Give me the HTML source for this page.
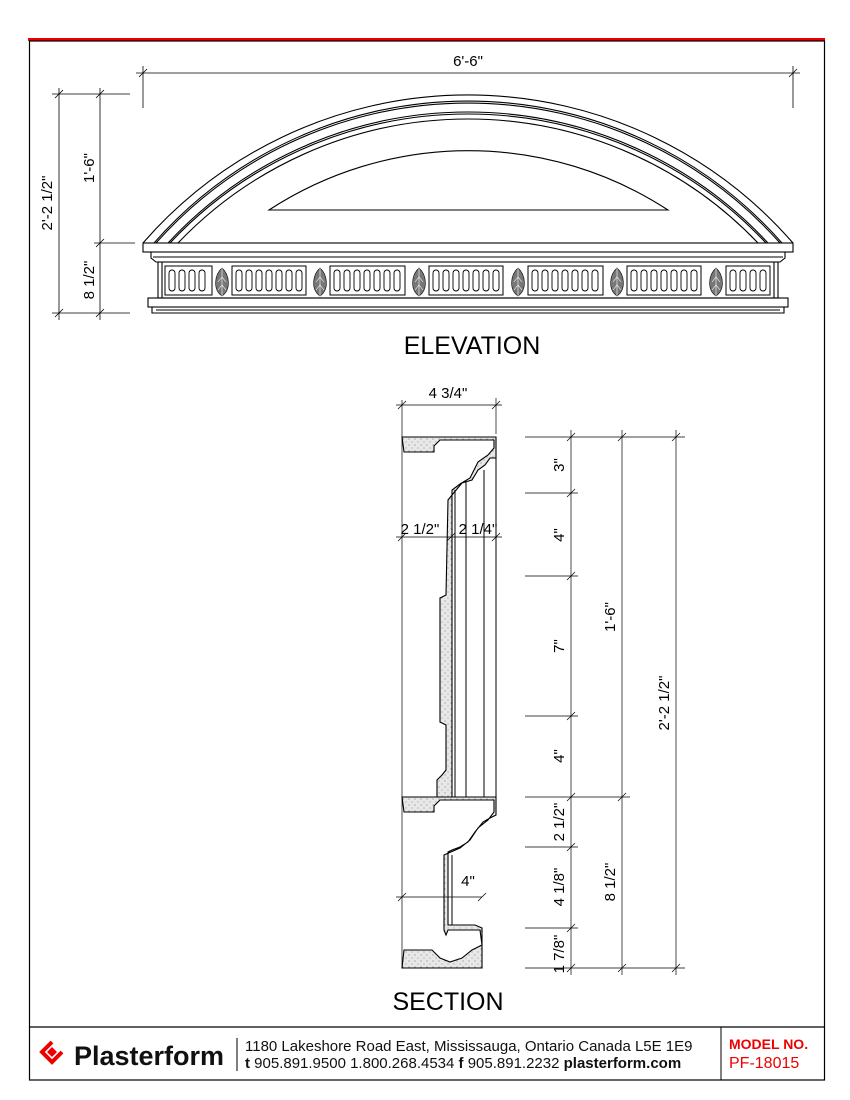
<!DOCTYPE html>
<html><head><style>
body{margin:0;background:#fff;}
svg{display:block;}
text{font-family:"Liberation Sans",sans-serif;}
</style></head><body>
<svg width="850" height="1100" viewBox="0 0 850 1100" xmlns="http://www.w3.org/2000/svg">
<defs>
<pattern id="st" width="6" height="6" patternUnits="userSpaceOnUse"><rect width="6" height="6" fill="#e8e8e8"/><circle cx="1" cy="1" r="0.6" fill="#888"/><circle cx="4" cy="4" r="0.6" fill="#999"/></pattern>
</defs>
<line x1="28" y1="39.5" x2="825" y2="39.5" stroke="#e00" stroke-width="3"/>
<rect x="29.5" y="41" width="795" height="1039" fill="none" stroke="#000" stroke-width="1.2"/>
<line x1="29" y1="1027" x2="825" y2="1027" stroke="#000" stroke-width="1.2"/>
<line x1="721" y1="1027" x2="721" y2="1080" stroke="#000" stroke-width="1"/>
<g fill="none" stroke="#000" stroke-width="1.1">
<path d="M143 243 A430.8 430.8 0 0 1 793 243"/>
<path d="M154 243 A418.2 418.2 0 0 1 782 243"/>
<path d="M156 243 A417.7 417.7 0 0 1 780 243"/>
<path d="M168 243 A409 409 0 0 1 768 243"/>
<path d="M170 243 A408.7 408.7 0 0 1 766 243"/>
<path d="M178 243 A401.1 401.1 0 0 1 758 243"/>
<path d="M269 210 A365 365 0 0 1 668 210 Z"/>
<rect x="143" y="243" width="650" height="9"/>
<path d="M151 252 L151 258 L156 262 L780 262 L785 258 L785 252"/>
<line x1="153" y1="257" x2="783" y2="257"/>
<rect x="158" y="262" width="620" height="36"/>
<line x1="162" y1="262" x2="162" y2="298"/><line x1="774" y1="262" x2="774" y2="298"/>
<rect x="148" y="298" width="640" height="9"/>
<path d="M152 307 L152 313 L784 313 L784 307"/>
<line x1="156" y1="310" x2="780" y2="310"/>
</g>
<g fill="none" stroke="#000" stroke-width="1">
<rect x="165" y="266" width="47" height="29"/>
<rect x="232" y="266" width="74" height="29"/>
<rect x="330" y="266" width="75" height="29"/>
<rect x="429" y="266" width="74" height="29"/>
<rect x="528" y="266" width="75" height="29"/>
<rect x="627" y="266" width="74" height="29"/>
<rect x="726" y="266" width="44" height="29"/>
</g>
<g fill="none" stroke="#000" stroke-width="0.9">
<g id="p4"><rect x="169" y="270" width="6" height="21" rx="3"/><rect x="179" y="270" width="6" height="21" rx="3"/><rect x="189" y="270" width="6" height="21" rx="3"/><rect x="199" y="270" width="6" height="21" rx="3"/></g>
<g id="p7"><rect x="236" y="270" width="6" height="21" rx="3"/><rect x="246" y="270" width="6" height="21" rx="3"/><rect x="256" y="270" width="6" height="21" rx="3"/><rect x="266" y="270" width="6" height="21" rx="3"/><rect x="276" y="270" width="6" height="21" rx="3"/><rect x="286" y="270" width="6" height="21" rx="3"/><rect x="296" y="270" width="6" height="21" rx="3"/></g>
<use href="#p7" x="98"/><use href="#p7" x="197"/><use href="#p7" x="296"/><use href="#p7" x="395"/>
<use href="#p4" x="561"/>
</g>
<g stroke="#000" stroke-width="0.6">
<g id="lf"><path d="M222 296 C213 290 214 275 222 268 C230 275 231 290 222 296 Z" fill="#777"/><line x1="222" y1="268" x2="222" y2="296" stroke="#fff"/><path d="M218 290 L222 285 L226 290 M218 282 L222 277 L226 282" stroke="#fff" fill="none"/></g>
<use href="#lf" x="98"/><use href="#lf" x="197"/><use href="#lf" x="296"/><use href="#lf" x="395"/><use href="#lf" x="494"/>
</g>
<g stroke="#000" stroke-width="0.8" fill="none">
<line x1="136" y1="73" x2="800" y2="73"/>
<line x1="143" y1="66" x2="143" y2="108"/><line x1="793" y1="66" x2="793" y2="108"/>
<line x1="139" y1="77" x2="147" y2="69"/><line x1="789" y1="77" x2="797" y2="69"/>
<line x1="59" y1="88" x2="59" y2="320"/><line x1="100" y1="88" x2="100" y2="320"/>
<line x1="52" y1="94" x2="130" y2="94"/><line x1="94" y1="243" x2="135" y2="243"/><line x1="52" y1="313" x2="130" y2="313"/>
<line x1="55" y1="98" x2="63" y2="90"/><line x1="96" y1="98" x2="104" y2="90"/><line x1="96" y1="247" x2="104" y2="239"/><line x1="55" y1="317" x2="63" y2="309"/><line x1="96" y1="317" x2="104" y2="309"/>
</g>
<g font-size="15" fill="#000">
<text x="468" y="66" text-anchor="middle">6'-6"</text>
<text transform="translate(52,203) rotate(-90)" text-anchor="middle">2'-2 1/2"</text>
<text transform="translate(94,168) rotate(-90)" text-anchor="middle">1'-6"</text>
<text transform="translate(94,280) rotate(-90)" text-anchor="middle">8 1/2"</text>
<text x="472" y="354" text-anchor="middle" font-size="25">ELEVATION</text>
<text x="448" y="1010" text-anchor="middle" font-size="25">SECTION</text>
</g>
<g stroke="#000" stroke-width="1.1" fill="url(#st)">
<path d="M402 437 L496 437 L496 458 L490 458 L485 465 L478 470 L472 480 L462 483 L452 495 L448 500 L446 595 L440 598 L440 722 L446 725 L446 770 L442 775 L437 780 L437 797 L452 797 L452 490 L460 484 L470 478 L478 462 L488 455 L494 448 L494 440 L440 440 L434 446 L434 452 L404 452 Z" />
<path d="M402 797 L496 797 L496 815 L490 818 L483 822 L475 832 L468 842 L460 847 L452 850 L448 852 L448 925 L475 925 L482 928 L482 945 L472 950 L462 958 L450 962 L440 958 L432 950 L404 950 L402 968 L482 968 L482 945 L480 930 L448 930 L446 935 L444 930 L444 855 L460 848 L470 840 L478 828 L488 820 L494 812 L494 800 L440 800 L434 806 L434 812 L404 812 Z"/>
</g>
<g stroke="#000" stroke-width="1" fill="none">
<line x1="496" y1="437" x2="496" y2="797"/>
<line x1="484" y1="470" x2="484" y2="797"/>
<line x1="466" y1="482" x2="466" y2="797"/>
<line x1="455" y1="490" x2="455" y2="797"/>
<line x1="452" y1="855" x2="452" y2="925"/>
</g>
<g stroke="#000" stroke-width="0.7" fill="none">
<line x1="402" y1="400" x2="402" y2="968"/>
<line x1="396" y1="405" x2="502" y2="405"/><line x1="496" y1="398" x2="496" y2="434"/>
<line x1="398" y1="409" x2="406" y2="401"/><line x1="492" y1="409" x2="500" y2="401"/>
<line x1="396" y1="537" x2="502" y2="537"/>
<line x1="398" y1="541" x2="406" y2="533"/><line x1="447" y1="541" x2="455" y2="533"/><line x1="492" y1="541" x2="500" y2="533"/>
<line x1="396" y1="897" x2="482" y2="897"/>
<line x1="398" y1="901" x2="406" y2="893"/><line x1="478" y1="901" x2="486" y2="893"/>
<line x1="571" y1="430" x2="571" y2="975"/><line x1="622" y1="430" x2="622" y2="975"/><line x1="676" y1="430" x2="676" y2="975"/>
<line x1="525" y1="437" x2="685" y2="437"/><line x1="525" y1="493" x2="578" y2="493"/><line x1="525" y1="576" x2="578" y2="576"/><line x1="525" y1="716" x2="578" y2="716"/><line x1="525" y1="797" x2="630" y2="797"/><line x1="525" y1="847" x2="578" y2="847"/><line x1="525" y1="928" x2="578" y2="928"/><line x1="525" y1="968" x2="685" y2="968"/>
<line x1="567" y1="441" x2="575" y2="433"/>
<line x1="618" y1="441" x2="626" y2="433"/><line x1="672" y1="441" x2="680" y2="433"/>
<line x1="567" y1="497" x2="575" y2="489"/><line x1="567" y1="580" x2="575" y2="572"/><line x1="567" y1="720" x2="575" y2="712"/><line x1="567" y1="801" x2="575" y2="793"/><line x1="618" y1="801" x2="626" y2="793"/><line x1="567" y1="851" x2="575" y2="843"/><line x1="567" y1="932" x2="575" y2="924"/><line x1="567" y1="972" x2="575" y2="964"/><line x1="618" y1="972" x2="626" y2="964"/><line x1="672" y1="972" x2="680" y2="964"/>
</g>
<g font-size="15" fill="#000">
<text x="448" y="398" text-anchor="middle">4 3/4"</text>
<text x="420" y="534" text-anchor="middle">2 1/2"</text>
<text x="478" y="534" text-anchor="middle">2 1/4"</text>
<text x="468" y="886" text-anchor="middle">4"</text>
<text transform="translate(564,465) rotate(-90)" text-anchor="middle">3"</text>
<text transform="translate(564,535) rotate(-90)" text-anchor="middle">4"</text>
<text transform="translate(564,646) rotate(-90)" text-anchor="middle">7"</text>
<text transform="translate(564,756) rotate(-90)" text-anchor="middle">4"</text>
<text transform="translate(564,822) rotate(-90)" text-anchor="middle">2 1/2"</text>
<text transform="translate(564,887) rotate(-90)" text-anchor="middle">4 1/8"</text>
<text transform="translate(564,954) rotate(-90)" text-anchor="middle">1 7/8"</text>
<text transform="translate(615,617) rotate(-90)" text-anchor="middle">1'-6"</text>
<text transform="translate(615,882) rotate(-90)" text-anchor="middle">8 1/2"</text>
<text transform="translate(669,703) rotate(-90)" text-anchor="middle">2'-2 1/2"</text>
</g>
<g fill="none" stroke="#e00" stroke-width="4">
<path d="M52 1042 L42 1052 L52 1062 L62 1052"/>
</g>
<path d="M47 1052 L52 1047 L57 1052 L52 1057 Z" fill="#e00"/>
<text x="74" y="1065" font-size="27" font-weight="bold" fill="#111">Plasterform</text>
<line x1="237" y1="1038" x2="237" y2="1071" stroke="#000" stroke-width="1"/>
<text x="245" y="1051" font-size="15" fill="#111">1180 Lakeshore Road East, Mississauga, Ontario  Canada  L5E 1E9</text>
<text x="245" y="1068" font-size="15" fill="#111"><tspan font-weight="bold">t</tspan> 905.891.9500  1.800.268.4534  <tspan font-weight="bold">f</tspan> 905.891.2232  <tspan font-weight="bold">plasterform.com</tspan></text>
<text x="729" y="1049" font-size="14" font-weight="bold" fill="#e00">MODEL NO.</text>
<text x="729" y="1068" font-size="16" fill="#e00">PF-18015</text>
</svg>
</body></html>
